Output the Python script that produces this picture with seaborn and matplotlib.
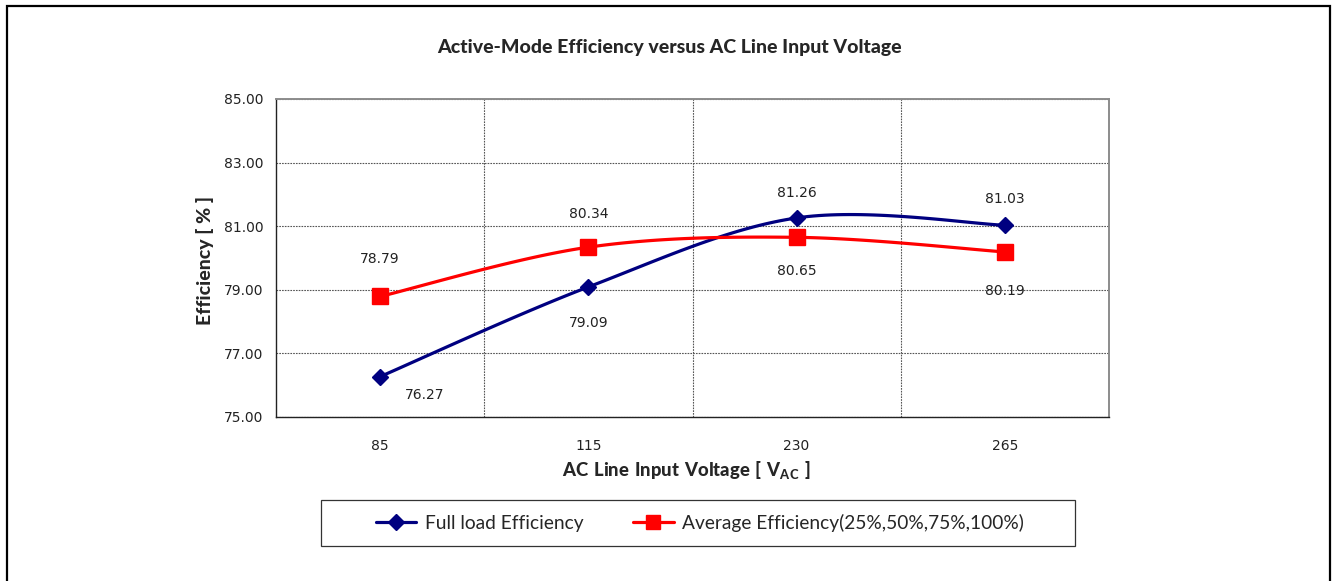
import numpy as np
import pandas as pd
import seaborn as sns
import matplotlib.pyplot as plt
from matplotlib.lines import Line2D
from matplotlib.patches import Rectangle

voltages = ["85", "115", "230", "265"]
full_load = [76.27, 79.09, 81.26, 81.03]
average = [78.79, 80.34, 80.65, 80.19]
series_names = ["Full load Efficiency", "Average Efficiency(25%,50%,75%,100%)"]

sns.set_style("white")
plt.rcParams['font.family'] = ['Lato', 'DejaVu Sans']
plt.rcParams['mathtext.fontset'] = 'custom'
plt.rcParams['mathtext.bf'] = 'Lato:black'
plt.rcParams['mathtext.rm'] = 'Lato'

W, H = 1332, 581
fig = plt.figure(figsize=(W / 100, H / 100), dpi=100)
ax = fig.add_axes([276 / W, 1 - 417 / H, (1109 - 276) / W, (417 - 99) / H])

x = np.arange(len(voltages))
ax.set_xlim(-0.5, len(voltages) - 0.5)
ax.set_ylim(75, 85)


def smooth(xs, ys, n=40):
    # excel style smoothed line: bezier through points, done in pixel space
    pts = ax.transData.transform(np.column_stack([xs, ys]))
    out = []
    for i in range(len(pts) - 1):
        p0 = pts[max(i - 1, 0)]
        p1, p2 = pts[i], pts[i + 1]
        p3 = pts[min(i + 2, len(pts) - 1)]
        c1 = p1 + (p2 - p0) / 6
        c2 = p2 - (p3 - p1) / 6
        t = np.linspace(0, 1, n)[:, None]
        seg = (1 - t) ** 3 * p1 + 3 * (1 - t) ** 2 * t * c1 + 3 * (1 - t) * t ** 2 * c2 + t ** 3 * p2
        out.append(seg if i == 0 else seg[1:])
    out = ax.transData.inverted().transform(np.vstack(out))
    return out[:, 0], out[:, 1]


blue = "#000080"
red = "#ff0000"
styles = [(full_load, blue, "D", 8), (average, red, "s", 11)]
for (vals, col, mk, ms), name in zip(styles, series_names):
    sx, sy = smooth(x, vals)
    curve = pd.DataFrame({"x": sx, "y": sy})
    sns.lineplot(data=curve, x="x", y="y", ax=ax, color=col, lw=2.3,
                 sort=False, estimator=None, zorder=3)
    ax.plot(x, vals, ls="", marker=mk, ms=ms, color=col, mec=col, zorder=4)

# data labels (offsets in points)
offsets_full = [(32, -13), (0, -26), (0, 18), (0, 19)]
offsets_avg = [(0, 27), (0, 24), (0, -24), (0, -28)]
for vals, offs in [(full_load, offsets_full), (average, offsets_avg)]:
    for xi, v, (dx, dy) in zip(x, vals, offs):
        ax.annotate(f"{v:.2f}", (xi, v), xytext=(dx, dy), textcoords="offset points",
                    ha="center", va="center", fontsize=10, family="DejaVu Sans",
                    color="#222222")

# axes styling
ax.set_yticks(np.arange(75, 86, 2))
ax.set_yticklabels([f"{v:.2f}" for v in np.arange(75, 86, 2)], family="DejaVu Sans",
                   fontsize=10, color="#222222")
ax.set_xticks(x)
ax.set_xticklabels(voltages, family="DejaVu Sans", fontsize=10, color="#222222")
ax.set_xticks(x[:-1] + 0.5, minor=True)
ax.tick_params(axis="x", which="major", length=0, pad=16)
ax.tick_params(axis="x", which="minor", length=5, width=1, color="#333333", direction="out")
ax.tick_params(axis="y", which="major", length=5, width=1, color="#333333", direction="out", pad=4)
ax.grid(False)
ax.yaxis.grid(True, which="major", ls=(0, (1.5, 1)), color="#555555", lw=0.8)
ax.xaxis.grid(True, which="minor", ls=(0, (1.5, 1)), color="#555555", lw=0.8)
for s in ["left", "bottom"]:
    ax.spines[s].set_color("#222222")
    ax.spines[s].set_linewidth(1.0)
for s in ["top", "right"]:
    ax.spines[s].set_color("#8c8c8c")
    ax.spines[s].set_linewidth(1.4)

ax.set_xlabel("")
ax.set_ylabel("")
fig.text(205 / W, 1 - 260 / H, "Efficiency [ % ]", rotation=90, ha="center", va="center",
         fontsize=14, fontweight="black")
fig.text(686 / W, 1 - 470 / H, r"$\mathbf{AC\ Line\ Input\ Voltage\ [\ V_{AC}\ ]}$",
         ha="center", va="center", fontsize=13.3)
fig.text(669 / W, 1 - 48 / H, "Active-Mode Efficiency versus AC Line Input Voltage",
         ha="center", va="center", fontsize=14, fontweight="black")

# outer frame and legend box
fig.add_artist(Rectangle((7 / W, -0.05), 1323 / W, 1.05 - 6 / H, transform=fig.transFigure,
                         fill=False, ec="black", lw=1.6))
fig.add_artist(Rectangle((321 / W, 1 - 546 / H), 754 / W, 46 / H, transform=fig.transFigure,
                         fill=False, ec="#333333", lw=0.9))
handles = [Line2D([], [], color=blue, lw=2.3, marker="D", ms=8),
           Line2D([], [], color=red, lw=2.3, marker="s", ms=10)]
fig.legend(handles, series_names, loc="center", bbox_to_anchor=(700 / W, 1 - 523 / H),
           ncol=2, frameon=False, fontsize=13.8, handlelength=2.1, columnspacing=2.6,
           handletextpad=0.45)

fig.savefig("out.png", dpi=100)
